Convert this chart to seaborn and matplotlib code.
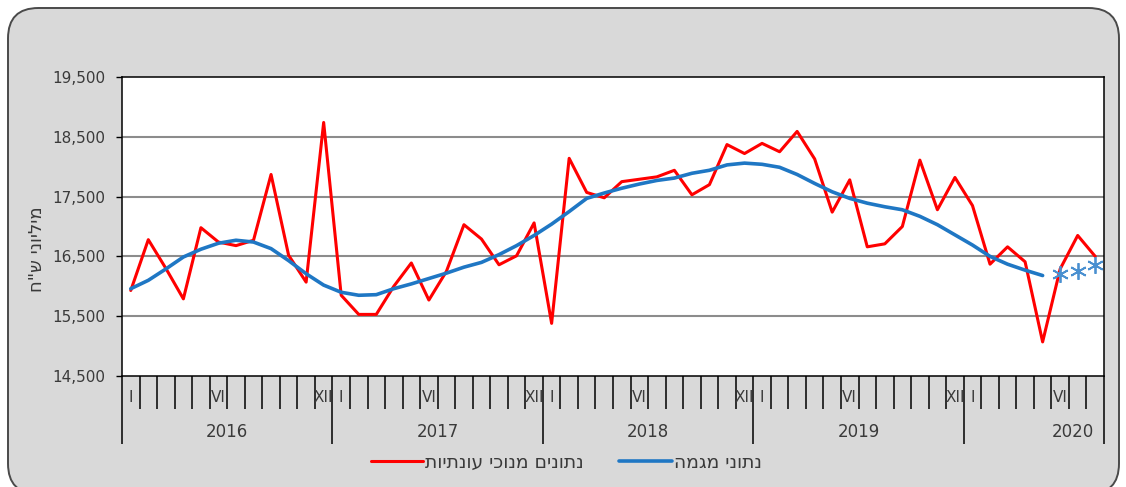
import numpy as np
import pandas as pd
import matplotlib
matplotlib.use("Agg")
import matplotlib.pyplot as plt
from matplotlib.patches import FancyBboxPatch
import seaborn as sns

# ---------------- data ----------------
years = [2016, 2017, 2018, 2019, 2020]
months_per_year = [12, 12, 12, 12, 8]
month_marks = {0: "I", 5: "VI", 11: "XII"}

seasonally_adjusted = [
    15930, 16780, 16300, 15790, 16980, 16740, 16680, 16770, 17870, 16520, 16070, 18740,
    15850, 15530, 15530, 16000, 16390, 15770, 16250, 17030, 16790, 16360, 16510, 17060,
    15380, 18140, 17570, 17480, 17750, 17790, 17830, 17940, 17530, 17700, 18370, 18220,
    18390, 18250, 18590, 18130, 17240, 17780, 16660, 16710, 17000, 18110, 17280, 17820,
    17350, 16370, 16660, 16410, 15070, 16290, 16850, 16500,
]
trend = [
    15960, 16100, 16290, 16490, 16620, 16720, 16770, 16740, 16630, 16430, 16210, 16020,
    15900, 15850, 15860, 15960, 16040, 16130, 16220, 16320, 16400, 16530, 16680, 16850,
    17040, 17250, 17470, 17560, 17640, 17710, 17770, 17810, 17890, 17940, 18030, 18060,
    18040, 17990, 17870, 17720, 17580, 17470, 17390, 17330, 17280, 17170, 17030, 16860,
    16690, 16500, 16370, 16270, 16180,
]
trend_provisional = [16210, 16260, 16360]

yticks = [14500, 15500, 16500, 17500, 18500, 19500]
label_red = "נתונים מנוכי עונתיות"
label_blue = "נתוני מגמה"
ylabel = 'מיליוני ש"ח'


def rtl(s):
    # matplotlib lays text out left to right; reverse so Hebrew reads correctly
    return s[::-1]


# ---------------- style ----------------
sns.set_theme(style="white")
plt.rcParams["font.family"] = ["DejaVu Sans"]
text_color = "#3a3a3a"

W, H = 1126, 487
fig = plt.figure(figsize=(W / 100, H / 100), dpi=100)
fig.patch.set_facecolor("white")

frame = FancyBboxPatch((8 / W, 1 - 494 / H), (1119 - 8) / W, (494 - 8) / H,
                       boxstyle="round,pad=0,rounding_size=0.027",
                       transform=fig.transFigure, facecolor="#d9d9d9",
                       edgecolor="#4a4a4a", linewidth=1.4, mutation_aspect=W / H,
                       zorder=-10)
fig.patches.append(frame)

left, right, top, bottom = 122, 1104, 77, 376
ax = fig.add_axes([left / W, 1 - bottom / H, (right - left) / W, (bottom - top) / H])
ax.set_zorder(1)
ax.set_facecolor("white")

n = len(seasonally_adjusted)
x_red = np.arange(n) + 0.5
x_trend = np.arange(len(trend)) + 0.5
x_prov = np.arange(len(trend), len(trend) + len(trend_provisional)) + 0.5

df_red = pd.DataFrame({"x": x_red, "v": seasonally_adjusted})
df_trend = pd.DataFrame({"x": x_trend, "v": trend})
df_prov = pd.DataFrame({"x": x_prov, "v": trend_provisional})

sns.lineplot(data=df_red, x="x", y="v", ax=ax, color="#ff0000", linewidth=2.2,
             label=rtl(label_red), zorder=3)
sns.lineplot(data=df_trend, x="x", y="v", ax=ax, color="#1f77c4", linewidth=2.6,
             label=rtl(label_blue), zorder=4)
sns.lineplot(data=df_prov, x="x", y="v", ax=ax, color="#4a90d0", linestyle="none",
             marker=(6, 2, 0), markersize=12, markeredgewidth=1.3,
             markeredgecolor="#4a90d0", zorder=5, legend=False)

ax.set_xlim(0, n)
ax.set_ylim(14500, 19500)
ax.set_yticks(yticks)
ax.set_yticklabels([f"{v:,}" for v in yticks], color=text_color, fontsize=11)
ax.tick_params(axis="y", direction="out", length=4, width=1, color="black", pad=8, left=True)
for v in yticks[1:-1]:
    ax.axhline(v, color="#8c8c8c", linewidth=1.5, zorder=1)

for s in ax.spines.values():
    s.set_color("black")
    s.set_linewidth(1.1)
ax.set_xlabel("")
ax.set_ylabel("")

# x axis: month ticks and year ticks
bounds = np.concatenate([[0], np.cumsum(months_per_year)])
month_ticks = np.arange(0, n + 1)
ax.set_xticks(bounds)
ax.set_xticklabels([])
ax.set_xticks(month_ticks, minor=True)
ax.tick_params(axis="x", which="major", direction="out", length=49, width=1.1,
               color="black", bottom=True)
ax.tick_params(axis="x", which="minor", direction="out", length=24, width=1.1,
               color="black", bottom=True)

trans = ax.get_xaxis_transform()
ax_h = bottom - top
month_y = -(398 - bottom) / ax_h
year_y = -(432 - bottom) / ax_h
for yi, (yr, nm) in enumerate(zip(years, months_per_year)):
    start = bounds[yi]
    for m, lab in month_marks.items():
        if m < nm:
            ax.text(start + m + 0.5, month_y, lab, transform=trans, ha="center",
                    va="center", fontsize=11, color=text_color, clip_on=False)
    cx = start + 6 if nm == 12 else start + 6.2
    ax.text(cx, year_y, str(yr), transform=trans, ha="center", va="center",
            fontsize=12, color=text_color, clip_on=False)

fig.text(37 / W, 1 - 249 / H, rtl(ylabel), rotation=90, ha="center", va="center",
         fontsize=13, color=text_color)

leg = ax.legend(loc="center", bbox_to_anchor=(566 / W, 1 - 462 / H),
                bbox_transform=fig.transFigure, ncol=2, frameon=False,
                handlelength=2.8, handletextpad=0.1, columnspacing=1.9,
                fontsize=13.5)
for t in leg.get_texts():
    t.set_color(text_color)

fig.savefig("out.png", dpi=100, facecolor=fig.get_facecolor())
